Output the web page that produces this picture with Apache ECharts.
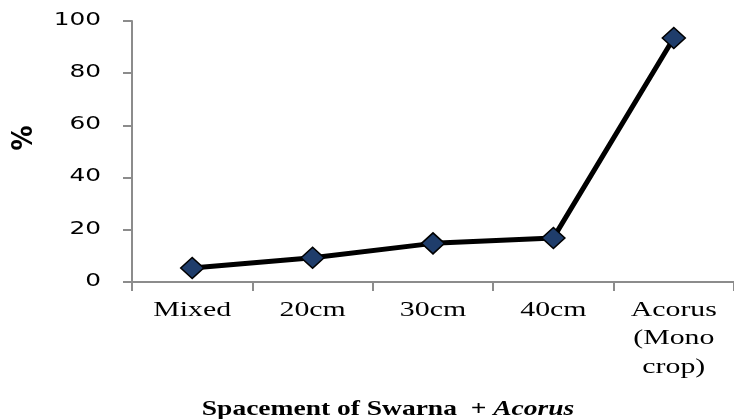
<!DOCTYPE html>
<html>
<head>
<meta charset="utf-8">
<script src="https://cdn.jsdelivr.net/npm/echarts@6/dist/echarts.min.js"></script>
<style>
  html, body { margin: 0; padding: 0; background: #fff; }
  #chart { width: 734px; height: 419px; }
</style>
</head>
<body>
<div id="chart"></div>
<script>
// Spacement treatments and measured percentage
const categories = ['Mixed', '20cm', '30cm', '40cm', 'Acorus\n(Mono\ncrop)'];
const percentValues = [5.4, 9.3, 14.8, 16.9, 93.5];
const yTickValues = [0, 20, 40, 60, 80, 100];
const yTitle = '%';
const xTitleMain = 'Spacement of Swarna  + ';
const xTitleItalic = 'Acorus';

const chart = echarts.init(document.getElementById('chart'));

chart.setOption({
  animation: false,
  grid: { left: 132, right: 0, top: 21, bottom: 137, containLabel: false },
  xAxis: {
    type: 'category',
    data: categories,
    boundaryGap: true,
    axisLine: { lineStyle: { color: '#8c8c8c', width: 2 } },
    axisTick: { show: true, length: 9, lineStyle: { color: '#8c8c8c', width: 2 } },
    axisLabel: { show: false },
    splitLine: { show: false }
  },
  yAxis: {
    type: 'value',
    min: yTickValues[0],
    max: yTickValues[yTickValues.length - 1],
    interval: yTickValues[1] - yTickValues[0],
    axisLine: { show: true, lineStyle: { color: '#8c8c8c', width: 2 } },
    axisTick: { show: true, length: 9, lineStyle: { color: '#8c8c8c', width: 2 } },
    axisLabel: { show: false },
    splitLine: { show: false }
  },
  series: [{
    type: 'line',
    data: percentValues,
    symbol: 'diamond',
    symbolSize: [23, 21],
    lineStyle: { color: '#000', width: 5 },
    itemStyle: { color: '#1f3d6b', borderColor: '#000', borderWidth: 1.5 },
    z: 3
  }]
});

// Axis texts are drawn in a wide, horizontally stretched face,
// placed on the positions reported by the axes themselves.
const labels = [];

yTickValues.forEach(function (v) {
  const py = chart.convertToPixel({ yAxisIndex: 0 }, v);
  labels.push({
    type: 'text',
    x: 101,
    y: py - 1,
    scaleX: 1.34,
    style: {
      text: String(v),
      font: '18.5px "DejaVu Sans"',
      fill: '#000',
      align: 'right',
      verticalAlign: 'middle'
    }
  });
});

categories.forEach(function (c, i) {
  const px = chart.convertToPixel({ xAxisIndex: 0 }, i);
  labels.push({
    type: 'text',
    x: px,
    y: 296,
    scaleX: 1.42,
    style: {
      text: c,
      font: '21px "Liberation Serif"',
      lineHeight: 28.5,
      fill: '#000',
      align: 'center',
      verticalAlign: 'top'
    }
  });
});

labels.push({
  type: 'text',
  x: 25,
  y: 138,
  rotation: Math.PI / 2,
  scaleY: 1.15,
  style: {
    text: yTitle,
    font: 'bold 25px "DejaVu Sans"',
    fill: '#000',
    align: 'center',
    verticalAlign: 'middle'
  }
});

labels.push({
  type: 'text',
  x: 388,
  y: 409,
  scaleX: 1.25,
  style: {
    text: '{b|' + xTitleMain + '}{i|' + xTitleItalic + '}',
    align: 'center',
    verticalAlign: 'middle',
    rich: {
      b: { fontFamily: 'Liberation Serif', fontWeight: 'bold', fontSize: 22, fill: '#000' },
      i: { fontFamily: 'Liberation Serif', fontWeight: 'bold', fontStyle: 'italic', fontSize: 22, fill: '#000' }
    }
  }
});

chart.setOption({ graphic: labels });
</script>
</body>
</html>
